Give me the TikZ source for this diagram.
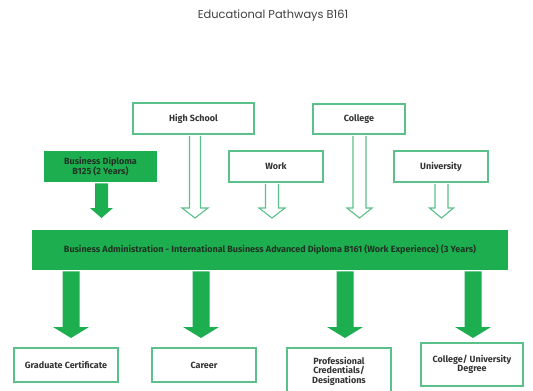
\documentclass[tikz,border=0pt]{standalone}
\usepackage{fontspec}
\setmainfont{Fira Sans}
\newfontfamily\titlefont{Poppins}
\usetikzlibrary{calc}
\definecolor{gfill}{HTML}{1DAF4F}
\definecolor{gline}{HTML}{5CC08A}
\definecolor{gtext}{HTML}{1E3324}
\definecolor{btext}{HTML}{333333}
\tikzset{
  hollowbox/.style={draw=gline, line width=1.1pt, fill=white, align=center,
    font=\fontsize{9}{9.6}\selectfont\bfseries, text=btext},
  greenbox/.style={fill=gfill, align=center,
    font=\fontsize{9}{9.6}\selectfont\bfseries, text=gtext},
  hollowarrow/.style={draw=gline, line width=1.1pt, fill=white, line join=miter},
  greenarrow/.style={fill=gfill, draw=none},
}
% #1 style, #2 node above, #3 x centre, #4 tip y, #5 shaft half width, #6 head half width, #7 head length
\newcommand\blockarrowdown[7]{%
  \path let \p1 = (#2.south) in
    [#1] ($(#3,\y1)+(-#5,1.2)$) -- (#3-#5,#4-#7) -- (#3-#6,#4-#7) -- (#3,#4)
      -- (#3+#6,#4-#7) -- (#3+#5,#4-#7) -- ($(#3,\y1)+(#5,1.2)$);
}
\begin{document}
\begin{tikzpicture}[x=1pt,y=-1pt]
\useasboundingbox (0,0) rectangle (533,391);
% title
\node[font=\titlefont\fontsize{11.4}{13}\selectfont, text=black!75] (title) at (273,16) {Educational Pathways B161};
% top boxes
\node[hollowbox, minimum width=121pt, minimum height=31pt] (hs) at (193.5,118.5) {High School};
\node[greenbox, minimum width=113pt, minimum height=31pt] (bd) at (100.5,166.5) {Business Diploma\\B125 (2 Years)};
\node[hollowbox, minimum width=94pt, minimum height=31pt] (work) at (276,166.5) {Work};
\node[hollowbox, minimum width=92pt, minimum height=30pt] (col) at (359,119) {College};
\node[hollowbox, minimum width=94pt, minimum height=31pt] (uni) at (441,166.5) {University};
% main bar
\node[greenbox, minimum width=476pt, minimum height=40pt] (main) at (270,250) {Business Administration - International Business Advanced Diploma B161 (Work Experience) (3 Years)};
% bottom boxes
\node[hollowbox, minimum width=104pt, minimum height=34pt] (grad) at (66,365) {Graduate Certificate};
\node[hollowbox, minimum width=104pt, minimum height=34pt] (career) at (204,365) {Career};
\node[hollowbox, minimum width=104pt, minimum height=46pt] (prof) at (339,371) {Professional\\Credentials/\\Designations};
\node[hollowbox, minimum width=102pt, minimum height=43pt] (cud) at (472,364.5) {College/ University\\Degree};
% arrows into the main bar
\blockarrowdown{hollowarrow}{hs}{195}{218}{5.5}{13}{10}
\blockarrowdown{hollowarrow}{work}{272}{218}{6.5}{13}{10}
\blockarrowdown{hollowarrow}{col}{359.5}{218}{6.5}{12.5}{10}
\blockarrowdown{hollowarrow}{uni}{441.5}{218}{6.5}{12}{10}
\blockarrowdown{greenarrow}{bd}{101.5}{218}{6.5}{11.5}{10}
% arrows out of the main bar
\blockarrowdown{greenarrow}{main}{71}{338}{8.5}{18}{11}
\blockarrowdown{greenarrow}{main}{201}{338}{8.5}{18}{11}
\blockarrowdown{greenarrow}{main}{345}{338}{8.5}{18}{11}
\blockarrowdown{greenarrow}{main}{473}{338}{8.5}{18}{11}
\end{tikzpicture}
\end{document}
